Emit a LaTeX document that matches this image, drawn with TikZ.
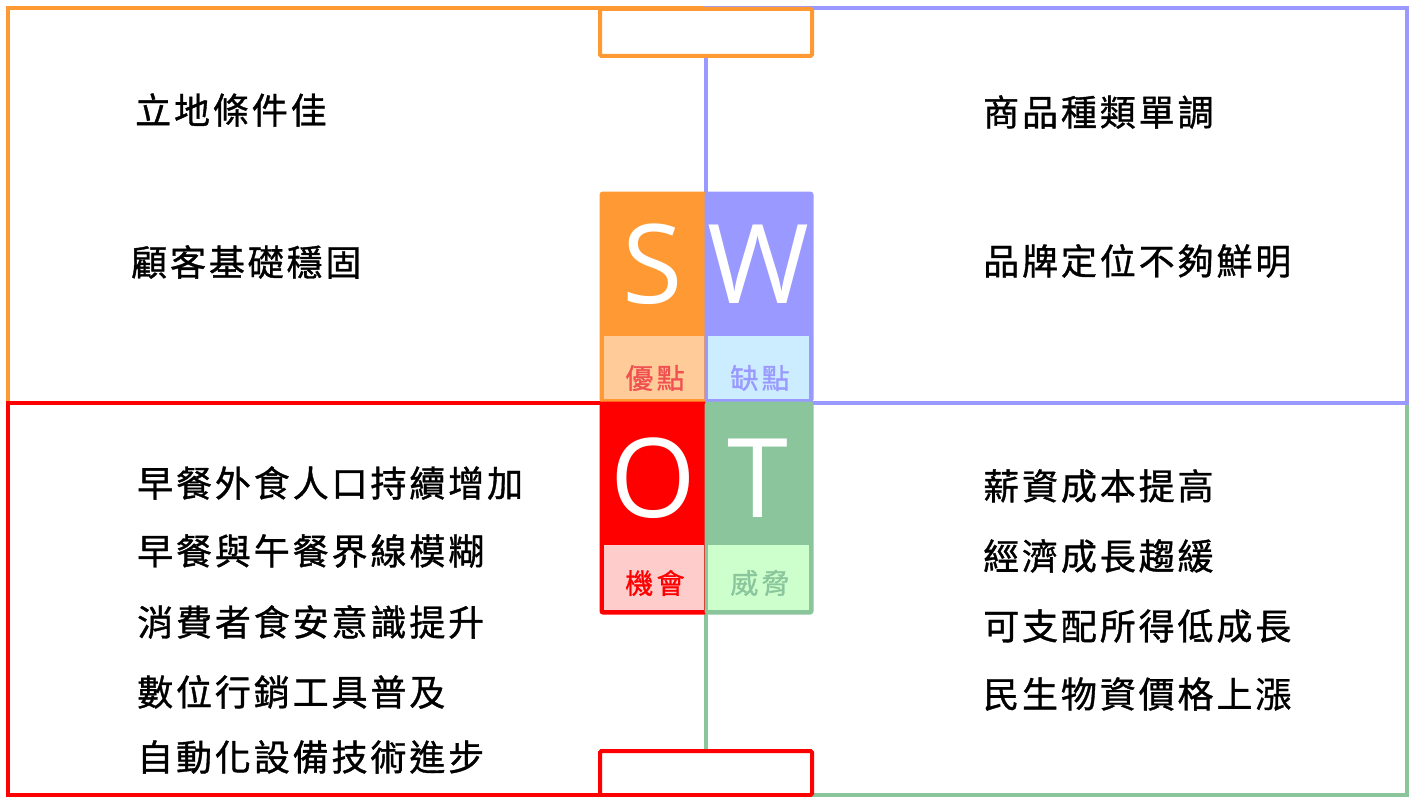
\documentclass[tikz,border=0pt]{standalone}
\usepackage{fontspec}
\newfontfamily\cjk[LetterSpace=8,FakeBold=1]{Noto Sans CJK TC}
\newfontfamily\cjklab[LetterSpace=12,FakeBold=1]{Noto Sans CJK TC}
\newfontfamily\bigletter{Open Sans}
\definecolor{sorange}{HTML}{FF9933}
\definecolor{sorangel}{HTML}{FFCC99}
\definecolor{wblue}{HTML}{9999FF}
\definecolor{wbluel}{HTML}{CCECFF}
\definecolor{ored}{HTML}{FF0000}
\definecolor{oredl}{HTML}{FFCCCC}
\definecolor{tgreen}{HTML}{8AC59C}
\definecolor{tgreenl}{HTML}{CCFFCC}
\definecolor{slabel}{HTML}{F05050}
\tikzset{
  quad/.style={line width=4pt},
  tab/.style={line width=4pt, fill=white, rounded corners=1.5pt},
  block/.style={line width=3pt, rounded corners=2pt},
  item/.style={anchor=west, inner sep=0pt, font=\cjk\fontsize{36}{40}\selectfont},
  lab/.style={inner sep=0pt, font=\cjklab\fontsize{28}{32}\selectfont},
  letter/.style={inner sep=0pt, text=white, font=\bigletter\fontsize{110}{120}\selectfont}
}
\begin{document}
\begin{tikzpicture}[x=1pt,y=-1pt]
\useasboundingbox (0,0) rectangle (1413,797);
% quadrants
\draw[quad, sorange] (8,8) rectangle (706,403);
\draw[quad, ored] (8,403) rectangle (706,795);
\draw[quad, tgreen] (706,403) rectangle (1407,795);
\draw[quad, wblue] (706,8) rectangle (1407,403);
% tabs
\draw[tab, draw=sorange] (600,9) rectangle (812,56);
\draw[tab, draw=ored] (600,751) rectangle (812,795);
% S block
\draw[block, draw=sorange, fill=sorange] (601,193) rectangle (706,401);
\fill[sorangel] (604,336) rectangle (704,399);
% W block
\draw[block, draw=wblue, fill=wblue] (706,193) rectangle (812,401);
\fill[wbluel] (708,336) rectangle (809,399);
% O block
\draw[block, draw=ored, fill=ored] (601,403) rectangle (706,613);
\fill[oredl] (604,545) rectangle (704,610);
% T block
\draw[block, draw=tgreen, fill=tgreen] (706,403) rectangle (812,613);
\fill[tgreenl] (708,545) rectangle (809,610);
% letters
\node[letter] (S) at (653,264) {S};
\node[letter] (W) at (758,264) {W};
\node[letter] (O) at (653,478) {O};
\node[letter] (T) at (758,478) {T};
% labels
\node[lab, text=slabel] (ls) at (655,378) {優點};
\node[lab, text=wblue] (lw) at (760,378) {缺點};
\node[lab, text=ored] (lo) at (655,583) {機會};
\node[lab, text=tgreen] (lt) at (760,583) {威脅};
% strengths
\node[item] (s1) at (135,110) {立地條件佳};
\node[item] (s2) at (131,262) {顧客基礎穩固};
% weaknesses
\node[item] (w1) at (983,112) {商品種類單調};
\node[item] (w2) at (983,261) {品牌定位不夠鮮明};
% opportunities
\node[item] (o1) at (137,483) {早餐外食人口持續增加};
\node[item] (o2) at (137,551) {早餐與午餐界線模糊};
\node[item] (o3) at (137,622) {消費者食安意識提升};
\node[item] (o4) at (137,692) {數位行銷工具普及};
\node[item] (o5) at (137,757) {自動化設備技術進步};
% threats
\node[item] (t1) at (983,486) {薪資成本提高};
\node[item] (t2) at (983,556) {經濟成長趨緩};
\node[item] (t3) at (983,626) {可支配所得低成長};
\node[item] (t4) at (983,694) {民生物資價格上漲};
\end{tikzpicture}
\end{document}
